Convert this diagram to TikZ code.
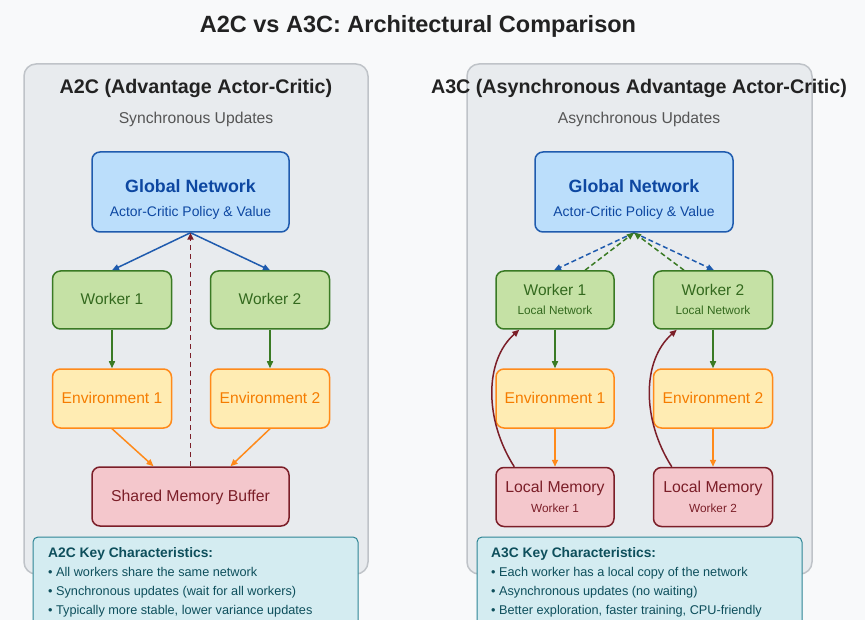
\documentclass[tikz,border=0pt]{standalone}
\usepackage{fontspec}
\setmainfont{Liberation Sans}
\usetikzlibrary{arrows.meta}
\definecolor{bgc}{HTML}{F8F9FA}
\definecolor{panelfill}{HTML}{E8EBEE}
\definecolor{paneldraw}{HTML}{BFC3C8}
\definecolor{titlec}{HTML}{222222}
\definecolor{subc}{HTML}{555555}
\definecolor{bluefill}{HTML}{BBDEFB}
\definecolor{bluedraw}{HTML}{1F5BAE}
\definecolor{bluetext}{HTML}{0D47A1}
\definecolor{greenfill}{HTML}{C5E1A5}
\definecolor{greendraw}{HTML}{3A7A24}
\definecolor{greentext}{HTML}{33691E}
\definecolor{orangefill}{HTML}{FFECB3}
\definecolor{orangedraw}{HTML}{FF8A1A}
\definecolor{orangetext}{HTML}{F57C00}
\definecolor{redfill}{HTML}{F4C7CC}
\definecolor{reddraw}{HTML}{7B1E28}
\definecolor{redtext}{HTML}{7B1E28}
\definecolor{tealfill}{HTML}{D4ECF1}
\definecolor{tealdraw}{HTML}{2E8595}
\definecolor{tealtext}{HTML}{0E4F5C}
\newcommand{\fsz}[1]{\fontsize{#1}{#1}\selectfont}
\tikzset{
  panel/.style={draw=paneldraw, fill=panelfill, line width=1.5pt, rounded corners=12pt},
  box/.style={rectangle, rounded corners=8pt, line width=1.5pt, inner sep=0pt},
  netbox/.style={box, draw=bluedraw, fill=bluefill, minimum width=197pt, minimum height=80pt},
  workbox/.style={box, draw=greendraw, fill=greenfill, minimum width=119pt, minimum height=58pt},
  envbox/.style={box, draw=orangedraw, fill=orangefill, minimum width=119pt, minimum height=59pt},
  membox/.style={box, draw=reddraw, fill=redfill, minimum height=59pt},
  keybox/.style={draw=tealdraw, fill=tealfill, line width=1pt, rounded corners=5pt},
  lbl/.style={anchor=base, inner sep=0pt},
  tip/.style={-{Triangle[length=7pt,width=6pt]}},
  arrblue/.style={tip, draw=bluedraw, line width=1.5pt},
  arrgreen/.style={tip, draw=greendraw, line width=1.5pt},
  arrorange/.style={tip, draw=orangedraw, line width=1.5pt},
  arrred/.style={tip, draw=reddraw, line width=1.5pt},
  dashblue/.style={arrblue, dash pattern=on 5pt off 3pt},
  dashgreen/.style={arrgreen, dash pattern=on 5pt off 3pt},
  dashred/.style={arrred, line width=1.8pt, dash pattern=on 5pt off 4pt},
}
\begin{document}
\begin{tikzpicture}[x=1pt, y=-1pt]
\fill[bgc] (0,0) rectangle (865,620);
\useasboundingbox (0,0) rectangle (865,620);

\node[lbl, text=titlec, font=\fsz{23.5}\bfseries] (title) at (418,33) {A2C vs A3C: Architectural Comparison};

% panels
\draw[panel] (24,64) rectangle (368,574);
\draw[panel] (467,64) rectangle (812,574);

% ---------- A2C ----------
\node[lbl, text=titlec, font=\fsz{19.7}\bfseries] (tA) at (196,94) {A2C (Advantage Actor-Critic)};
\node[lbl, text=subc, font=\fsz{15.7}] (sA) at (196,123.5) {Synchronous Updates};

\node[netbox] (glA) at (190.5,192) {};
\node[lbl, text=bluetext, font=\fsz{17.8}\bfseries] (glAt) at (190.5,192.5) {Global Network};
\node[lbl, text=bluetext, font=\fsz{13.9}] (glAs) at (190.5,217) {Actor-Critic Policy \& Value};

\node[workbox] (w1A) at (112,300) {};
\node[lbl, text=greentext, font=\fsz{15.5}] (w1At) at (112,304.5) {Worker 1};
\node[workbox] (w2A) at (270,300) {};
\node[lbl, text=greentext, font=\fsz{15.5}] (w2At) at (270,304.5) {Worker 2};

\node[envbox] (e1A) at (112,398.5) {};
\node[lbl, text=orangetext, font=\fsz{15.6}] (e1At) at (112,403.5) {Environment 1};
\node[envbox] (e2A) at (270,398.5) {};
\node[lbl, text=orangetext, font=\fsz{15.6}] (e2At) at (270,403.5) {Environment 2};

\node[membox, minimum width=197pt] (smA) at (190.5,496.5) {};
\node[lbl, text=redtext, font=\fsz{15.8}] (smAt) at (190.5,501.5) {Shared Memory Buffer};

\draw[arrblue] (glA.south) -- (w1A.north);
\draw[arrblue] (glA.south) -- (w2A.north);
\draw[arrgreen] (w1A.south) -- (e1A.north);
\draw[arrgreen] (w2A.south) -- (e2A.north);
\draw[arrorange] (e1A.south) -- ([xshift=-37pt]smA.north);
\draw[arrorange] (e2A.south) -- ([xshift=40pt]smA.north);
\draw[dashred] (smA.north) -- (glA.south);

% key box A2C
\draw[keybox] (33,537) rectangle (358,630);
\node[lbl, text=tealtext, font=\fsz{13.8}\bfseries, anchor=base west] (kAh) at (48,557) {A2C Key Characteristics:};
\node[lbl, text=tealtext, font=\fsz{12.7}, anchor=base west] (kA1) at (48,576.5) {• All workers share the same network};
\node[lbl, text=tealtext, font=\fsz{12.7}, anchor=base west] (kA2) at (48,595.5) {• Synchronous updates (wait for all workers)};
\node[lbl, text=tealtext, font=\fsz{12.7}, anchor=base west] (kA3) at (48,614.5) {• Typically more stable, lower variance updates};

% ---------- A3C ----------
\node[lbl, text=titlec, font=\fsz{19.7}\bfseries] (tB) at (639,94) {A3C (Asynchronous Advantage Actor-Critic)};
\node[lbl, text=subc, font=\fsz{15.7}] (sB) at (639,123.5) {Asynchronous Updates};

\node[netbox, minimum width=198pt] (glB) at (634,192) {};
\node[lbl, text=bluetext, font=\fsz{17.8}\bfseries] (glBt) at (634,192.5) {Global Network};
\node[lbl, text=bluetext, font=\fsz{13.9}] (glBs) at (634,217) {Actor-Critic Policy \& Value};

\node[workbox, minimum width=118pt] (w1B) at (555,300) {};
\node[lbl, text=greentext, font=\fsz{15.5}] (w1Bt) at (555,295.5) {Worker 1};
\node[lbl, text=greentext, font=\fsz{11.8}] (w1Bs) at (555,315) {Local Network};
\node[workbox] (w2B) at (713,300) {};
\node[lbl, text=greentext, font=\fsz{15.5}] (w2Bt) at (713,295.5) {Worker 2};
\node[lbl, text=greentext, font=\fsz{11.8}] (w2Bs) at (713,315) {Local Network};

\node[envbox, minimum width=118pt] (e1B) at (555,398.5) {};
\node[lbl, text=orangetext, font=\fsz{15.6}] (e1Bt) at (555,403.5) {Environment 1};
\node[envbox] (e2B) at (713,398.5) {};
\node[lbl, text=orangetext, font=\fsz{15.6}] (e2Bt) at (713,403.5) {Environment 2};

\node[membox, minimum width=118pt] (m1B) at (555,497) {};
\node[lbl, text=redtext, font=\fsz{15.8}] (m1Bt) at (555,492.5) {Local Memory};
\node[lbl, text=redtext, font=\fsz{11.8}] (m1Bs) at (555,512) {Worker 1};
\node[membox, minimum width=119pt] (m2B) at (713,497) {};
\node[lbl, text=redtext, font=\fsz{15.8}] (m2Bt) at (713,492.5) {Local Memory};
\node[lbl, text=redtext, font=\fsz{11.8}] (m2Bs) at (713,512) {Worker 2};

\draw[dashblue] (glB.south) -- ([xshift=-1pt]w1B.north);
\draw[dashblue] (glB.south) -- ([xshift=1pt]w2B.north);
\draw[dashgreen] ([xshift=30pt]w1B.north) -- (glB.south);
\draw[dashgreen] ([xshift=-29pt]w2B.north) -- (glB.south);
\draw[arrgreen] (w1B.south) -- (e1B.north);
\draw[arrgreen] (w2B.south) -- (e2B.north);
\draw[arrorange] (e1B.south) -- (m1B.north);
\draw[arrorange] (e2B.south) -- (m2B.north);
\draw[arrred] ([xshift=19pt]m1B.north west) .. controls +(-30,-47) and +(-35,31) .. ([xshift=24pt]w1B.south west);
\draw[arrred] ([xshift=19pt]m2B.north west) .. controls +(-30,-47) and +(-35,31) .. ([xshift=24pt]w2B.south west);

% key box A3C
\draw[keybox] (477,537) rectangle (802,630);
\node[lbl, text=tealtext, font=\fsz{13.8}\bfseries, anchor=base west] (kBh) at (491,557) {A3C Key Characteristics:};
\node[lbl, text=tealtext, font=\fsz{12.7}, anchor=base west] (kB1) at (491,576.5) {• Each worker has a local copy of the network};
\node[lbl, text=tealtext, font=\fsz{12.7}, anchor=base west] (kB2) at (491,595.5) {• Asynchronous updates (no waiting)};
\node[lbl, text=tealtext, font=\fsz{12.7}, anchor=base west] (kB3) at (491,614.5) {• Better exploration, faster training, CPU-friendly};
\end{tikzpicture}
\end{document}
